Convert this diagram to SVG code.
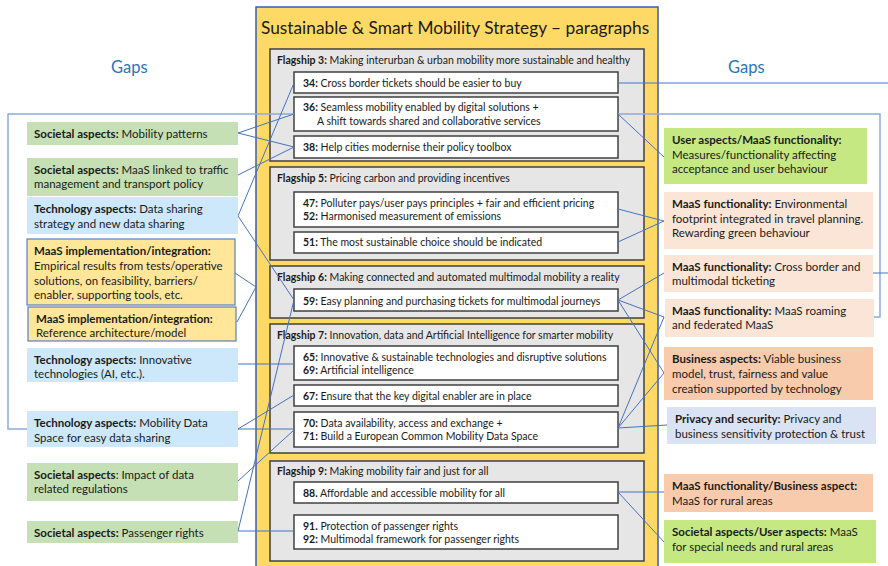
<svg xmlns="http://www.w3.org/2000/svg" width="888" height="566" viewBox="0 0 888 566">
<style>
text{font-family:Lato,"Noto Sans","Liberation Sans",sans-serif;fill:#1a1a1a}
.t{font-size:11.5px}
.s{font-size:10.5px}
.b{font-weight:bold}
.gaps{font-size:16.5px;fill:#2E75B6}
.title{font-size:17.3px}
.soc{fill:#C5E0B4}
.tech{fill:#CCE8FA}
.impl{fill:#FFE699;stroke:#5B7FC0;stroke-width:1.2}
.flag{fill:#E7E6E6;stroke:#404040;stroke-width:1.5}
.par{fill:#FFFFFF;stroke:#404040;stroke-width:1.5}
.ug{fill:#C6E883}
.pl{fill:#FBE5D6}
.pd{fill:#F8CBAD}
.pv{fill:#DAE3F3}
.c{fill:none;stroke:#4472C4;stroke-width:1}
.br{fill:none;stroke:#8FAADC;stroke-width:1.5}
</style>

<text class="gaps" x="111" y="73">Gaps</text>
<text class="gaps" x="728" y="73">Gaps</text>

<g id="strategy">
<rect x="256" y="7" width="402" height="565" fill="#FFD966" stroke="#3A5FA8" stroke-width="1.5"/>
<text class="title" x="261" y="34">Sustainable &amp; Smart Mobility Strategy – paragraphs</text>
</g>

<g id="flagship3">
<rect class="flag" x="270" y="49" width="374" height="112"/>
<text class="s" x="277" y="64"><tspan class="b">Flagship 3:</tspan> Making interurban &amp; urban mobility more sustainable and healthy</text>
</g>
<g id="p34"><rect class="par" x="294" y="72" width="324" height="21"/><text class="s" x="303" y="87"><tspan class="b">34:</tspan> Cross border tickets should be easier to buy</text></g>
<g id="p36"><rect class="par" x="294" y="97" width="324" height="34"/><text class="s" x="303" y="111"><tspan class="b">36:</tspan> Seamless mobility enabled by digital solutions +</text><text class="s" x="317" y="125">A shift towards shared and collaborative services</text></g>
<g id="p38"><rect class="par" x="294" y="136" width="324" height="22"/><text class="s" x="303" y="151"><tspan class="b">38:</tspan> Help cities modernise their policy toolbox</text></g>

<g id="flagship5">
<rect class="flag" x="270" y="167" width="374" height="93"/>
<text class="s" x="277" y="182"><tspan class="b">Flagship 5:</tspan> Pricing carbon and providing incentives</text>
</g>
<g id="p47-52"><rect class="par" x="294" y="192" width="324" height="35"/><text class="s" x="303" y="207"><tspan class="b">47:</tspan> Polluter pays/user pays principles + fair and efficient pricing</text><text class="s" x="303" y="220"><tspan class="b">52:</tspan> Harmonised measurement of emissions</text></g>
<g id="p51"><rect class="par" x="294" y="232" width="324" height="21"/><text class="s" x="303" y="246"><tspan class="b">51:</tspan> The most sustainable choice should be indicated</text></g>

<g id="flagship6">
<rect class="flag" x="270" y="266" width="374" height="52"/>
<text class="s" x="277" y="281"><tspan class="b">Flagship 6:</tspan> Making connected and automated multimodal mobility a reality</text>
</g>
<g id="p59"><rect class="par" x="294" y="289" width="324" height="22"/><text class="s" x="303" y="305"><tspan class="b">59:</tspan> Easy planning and purchasing tickets for multimodal journeys</text></g>

<g id="flagship7">
<rect class="flag" x="270" y="324" width="374" height="129"/>
<text class="s" x="277" y="339"><tspan class="b">Flagship 7:</tspan> Innovation, data and Artificial Intelligence for smarter mobility</text>
</g>
<g id="p65-69"><rect class="par" x="294" y="346" width="324" height="34"/><text class="s" x="303" y="361"><tspan class="b">65:</tspan> Innovative &amp; sustainable technologies and disruptive solutions</text><text class="s" x="303" y="374"><tspan class="b">69:</tspan> Artificial intelligence</text></g>
<g id="p67"><rect class="par" x="294" y="385" width="324" height="21"/><text class="s" x="303" y="400"><tspan class="b">67:</tspan> Ensure that the key digital enabler are in place</text></g>
<g id="p70-71"><rect class="par" x="294" y="412" width="324" height="35"/><text class="s" x="303" y="427"><tspan class="b">70:</tspan> Data availability, access and exchange +</text><text class="s" x="303" y="440"><tspan class="b">71:</tspan> Build a European Common Mobility Data Space</text></g>

<g id="flagship9">
<rect class="flag" x="270" y="461" width="374" height="100"/>
<text class="s" x="277" y="475"><tspan class="b">Flagship 9:</tspan> Making mobility fair and just for all</text>
</g>
<g id="p88"><rect class="par" x="294" y="482" width="324" height="21"/><text class="s" x="303" y="497"><tspan class="b">88.</tspan> Affordable and accessible mobility for all</text></g>
<g id="p91-92"><rect class="par" x="294" y="515" width="324" height="34"/><text class="s" x="303" y="530"><tspan class="b">91.</tspan> Protection of passenger rights</text><text class="s" x="303" y="543"><tspan class="b">92:</tspan> Multimodal framework for passenger rights</text></g>

<g id="connectors">
<path class="br" d="M294 114 H8 V429 H27"/>
<path class="br" d="M618 114 H880 V317 H874"/>
<path class="c" d="M618 83 H888"/>
<path class="c" d="M873 273 H888"/>
<path class="c" d="M238 133 L294 114 M238 133 L294 147 M238 175 L294 147"/>
<path class="c" d="M238 216 L294 83 M238 216 L294 300"/>
<path class="c" d="M235 273 L256 287 L237 322"/>
<path class="c" d="M238 364 H294"/>
<path class="c" d="M238 429 L294 395 M238 429 H294"/>
<path class="c" d="M238 481 L294 430"/>
<path class="c" d="M238 531 L294 300 M238 531 H294"/>
<path class="c" d="M618 114 L664 157"/>
<path class="c" d="M618 209 L664 221 L618 242"/>
<path class="c" d="M618 300 L664 273 M618 300 L664 317 M618 300 L664 373"/>
<path class="c" d="M618 428 L664 317 M618 428 L664 373 M618 428 L667 425"/>
<path class="c" d="M618 492 L664 492 M618 492 L664 542"/>
</g>

<g id="soc-mobility"><rect class="soc" x="27" y="122" width="211" height="23"/><text class="t" x="34" y="138"><tspan class="b">Societal aspects:</tspan> Mobility patterns</text></g>
<g id="soc-traffic"><rect class="soc" x="27" y="158" width="211" height="38"/><text class="t" x="34" y="174"><tspan class="b">Societal aspects:</tspan> MaaS linked to traffic</text><text class="t" x="34" y="188">management and transport policy</text></g>
<g id="tech-datasharing"><rect class="tech" x="27" y="197" width="211" height="37"/><text class="t" x="34" y="213"><tspan class="b">Technology aspects:</tspan> Data sharing</text><text class="t" x="34" y="228">strategy and new data sharing</text></g>
<g id="impl-empirical"><rect class="impl" x="27" y="239" width="208" height="66"/><text class="t" x="34" y="255"><tspan class="b">MaaS implementation/integration:</tspan></text><text class="t" x="34" y="270">Empirical results from tests/operative</text><text class="t" x="34" y="285">solutions, on feasibility, barriers/</text><text class="t" x="34" y="299">enabler, supporting tools, etc.</text></g>
<g id="impl-reference"><rect class="impl" x="28" y="307" width="208" height="34"/><text class="t" x="36" y="323"><tspan class="b">MaaS implementation/integration:</tspan></text><text class="t" x="36" y="337">Reference architecture/model</text></g>
<g id="tech-innovative"><rect class="tech" x="27" y="348" width="211" height="34"/><text class="t" x="34" y="364"><tspan class="b">Technology aspects:</tspan> Innovative</text><text class="t" x="34" y="378">technologies (AI, etc.).</text></g>
<g id="tech-mds"><rect class="tech" x="27" y="411" width="211" height="36"/><text class="t" x="34" y="427"><tspan class="b">Technology aspects:</tspan> Mobility Data</text><text class="t" x="34" y="442">Space for easy data sharing</text></g>
<g id="soc-impact"><rect class="soc" x="27" y="463" width="211" height="38"/><text class="t" x="34" y="479"><tspan class="b">Societal aspects</tspan>: Impact of data</text><text class="t" x="34" y="493">related regulations</text></g>
<g id="soc-passenger"><rect class="soc" x="27" y="521" width="211" height="22"/><text class="t" x="34" y="537"><tspan class="b">Societal aspects:</tspan> Passenger rights</text></g>

<g id="user-acceptance"><rect class="ug" x="664" y="128" width="203" height="56"/><text class="t" x="672" y="144"><tspan class="b">User aspects/MaaS functionality:</tspan></text><text class="t" x="672" y="159">Measures/functionality affecting</text><text class="t" x="672" y="173">acceptance and user behaviour</text></g>
<g id="maas-env"><rect class="pl" x="664" y="192" width="209" height="57"/><text class="t" x="672" y="208"><tspan class="b">MaaS functionality:</tspan> Environmental</text><text class="t" x="672" y="223">footprint integrated in travel planning.</text><text class="t" x="672" y="237">Rewarding green behaviour</text></g>
<g id="maas-crossborder"><rect class="pl" x="664" y="255" width="209" height="37"/><text class="t" x="672" y="271"><tspan class="b">MaaS functionality:</tspan> Cross border and</text><text class="t" x="672" y="285">multimodal ticketing</text></g>
<g id="maas-roaming"><rect class="pl" x="665" y="299" width="209" height="38"/><text class="t" x="672" y="315"><tspan class="b">MaaS functionality:</tspan> MaaS roaming</text><text class="t" x="672" y="329">and federated MaaS</text></g>
<g id="business"><rect class="pd" x="664" y="347" width="209" height="53"/><text class="t" x="672" y="363"><tspan class="b">Business aspects:</tspan> Viable business</text><text class="t" x="672" y="378">model, trust, fairness and value</text><text class="t" x="672" y="393">creation supported by technology</text></g>
<g id="privacy"><rect class="pv" x="667" y="407" width="209" height="37"/><text class="t" x="675" y="423"><tspan class="b">Privacy and security:</tspan> Privacy and</text><text class="t" x="675" y="438">business sensitivity protection &amp; trust</text></g>
<g id="maas-rural"><rect class="pd" x="664" y="474" width="209" height="38"/><text class="t" x="672" y="490"><tspan class="b">MaaS functionality/Business aspect:</tspan></text><text class="t" x="672" y="505">MaaS for rural areas</text></g>
<g id="soc-special"><rect class="ug" x="664" y="520" width="212" height="43"/><text class="t" x="672" y="536"><tspan class="b">Societal aspects/User aspects:</tspan> MaaS</text><text class="t" x="672" y="551">for special needs and rural areas</text></g>
</svg>
